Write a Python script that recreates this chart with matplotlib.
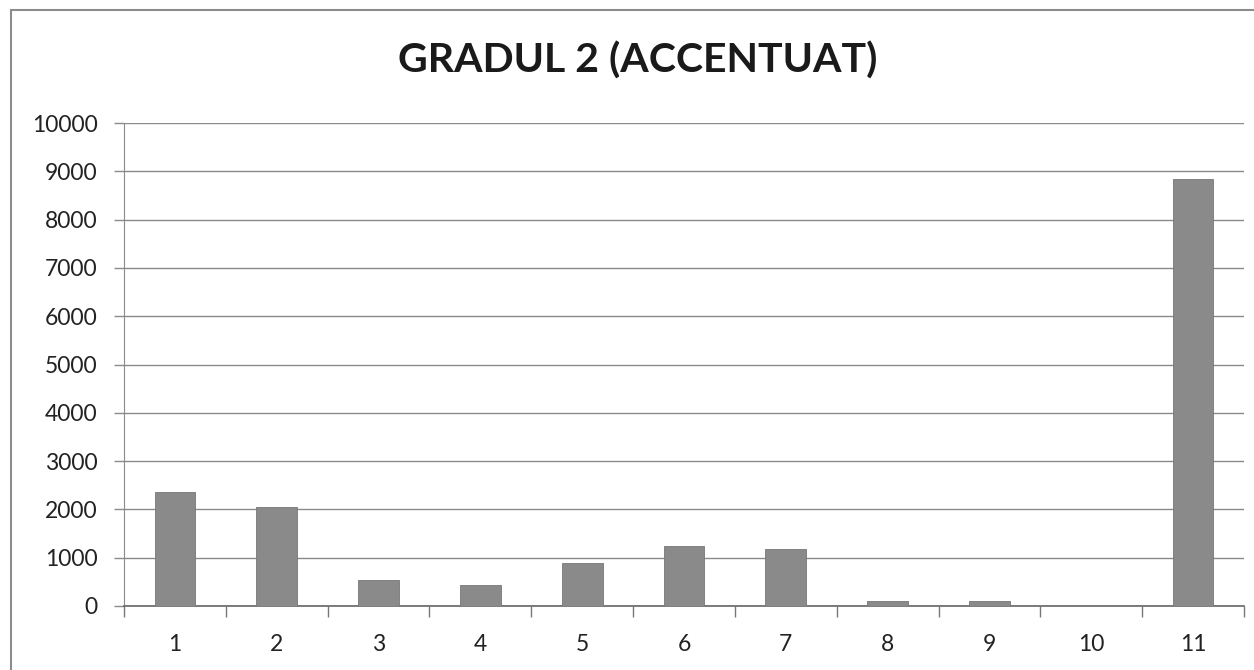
import matplotlib
matplotlib.use("Agg")
import matplotlib.pyplot as plt
from matplotlib.patches import Rectangle
import numpy as np

categories = ["1", "2", "3", "4", "5", "6", "7", "8", "9", "10", "11"]
values = [2370, 2050, 540, 430, 900, 1250, 1190, 110, 110, 0, 8840]
y_ticks = [0, 1000, 2000, 3000, 4000, 5000, 6000, 7000, 8000, 9000, 10000]
title = "GRADUL 2 (ACCENTUAT)"

W, H, DPI = 1254, 670, 100
fig = plt.figure(figsize=(W / DPI, H / DPI), dpi=DPI)
fig.patch.set_facecolor("white")

# chart frame
fig.patches.append(Rectangle((11 / W, -0.05), 1.2, 1 - 10 / H + 0.05,
                             transform=fig.transFigure, fill=False,
                             edgecolor="#8c8c8c", linewidth=1.5))

left, right = 124, 1244
top, bottom = 123, 606
ax = fig.add_axes([left / W, 1 - bottom / H, (right - left) / W, (bottom - top) / H])

x = np.arange(len(categories))
ax.bar(x, values, width=0.40, color="#8a8a8a", edgecolor="#777777", linewidth=0.6, zorder=3)

ax.set_xlim(-0.5, len(categories) - 0.5)
ax.set_ylim(0, 10000)
ax.set_yticks(y_ticks)
ax.set_yticklabels([str(v) for v in y_ticks], fontsize=16.5, color="#222222", family="Lato")
ax.yaxis.grid(True, color="#8a8a8a", linewidth=1.0, zorder=0)
ax.tick_params(axis="y", length=7, width=1.0, color="#8a8a8a", pad=12)

# category boundaries as major ticks, labels as minor ticks
ax.set_xticks(np.arange(-0.5, len(categories), 1.0))
ax.set_xticklabels([])
ax.set_xticks(x, minor=True)
ax.set_xticklabels(categories, minor=True, fontsize=16.5, color="#222222", family="Lato")
ax.tick_params(axis="x", which="major", length=8, width=1.0, color="#777777", direction="out")
ax.tick_params(axis="x", which="minor", length=0, pad=20)

for s in ["top", "right"]:
    ax.spines[s].set_visible(False)
ax.spines["left"].set_color("#8a8a8a")
ax.spines["bottom"].set_color("#666666")
ax.spines["bottom"].set_linewidth(1.2)

fig.text(638 / W, 1 - 73 / H, title, ha="center", va="baseline",
         fontsize=29.5, fontweight="bold", family="Lato", color="#1a1a1a")

fig.savefig("out.png", dpi=DPI, facecolor="white")
